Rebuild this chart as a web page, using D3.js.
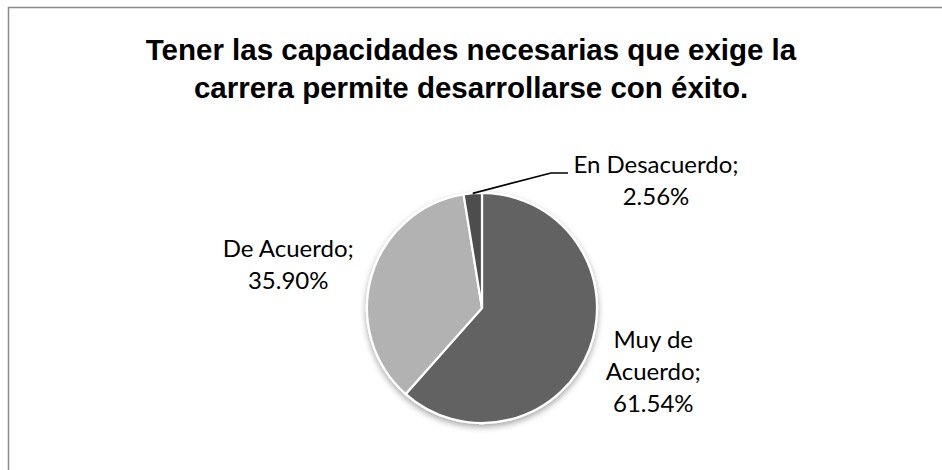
<!DOCTYPE html>
<html lang="es">
<head>
<meta charset="UTF-8">
<title>Tener las capacidades necesarias</title>
<script src="https://d3js.org/d3.v7.min.js"></script>
<style>
  body { margin: 0; padding: 0; background: #ffffff; }
  svg { display: block; }
</style>
</head>
<body>
<svg id="chart"></svg>
<script>
// Data
const categories = ["Muy de Acuerdo", "De Acuerdo", "En Desacuerdo"];
const percents = [61.54, 35.90, 2.56];
const labelLines = [["Muy de", "Acuerdo;", "61.54%"], ["De Acuerdo;", "35.90%"], ["En Desacuerdo;", "2.56%"]];
const titleLines = ["Tener las capacidades necesarias que exige la", "carrera permite desarrollarse con éxito."];

const width = 942, height = 470;
const cx = 482, cy = 308, radius = 115;

const color = d3.scaleOrdinal()
  .domain(categories)
  .range(["#626262", "#b2b2b2", "#4e4e4e"]);

const svg = d3.select("#chart").attr("width", width).attr("height", height);

// drop shadow for the pie
const defs = svg.append("defs");
const f = defs.append("filter").attr("id", "shadow")
  .attr("x", "-20%").attr("y", "-20%").attr("width", "140%").attr("height", "140%");
f.append("feDropShadow").attr("dx", 0).attr("dy", 3).attr("stdDeviation", 3)
  .attr("flood-color", "#000").attr("flood-opacity", 0.35);

// chart frame
svg.append("rect")
  .attr("x", 8.5).attr("y", 7.5).attr("width", width).attr("height", height)
  .attr("fill", "#fff").attr("stroke", "#8a8a8a").attr("stroke-width", 1.5);

// title
svg.append("text")
  .attr("text-anchor", "middle")
  .attr("font-family", "Liberation Sans, Arial, sans-serif")
  .attr("font-weight", "bold").attr("font-size", 29.5).attr("fill", "#000")
  .selectAll("tspan").data(titleLines).join("tspan")
  .attr("x", 471).attr("y", (d, i) => 60 + i * 38)
  .text(d => d);

const data = categories.map((c, i) => ({ category: c, value: percents[i], lines: labelLines[i] }));

const pie = d3.pie().sort(null).value(d => d.value);
const arc = d3.arc().innerRadius(0).outerRadius(radius);
const arcs = pie(data);

const g = svg.append("g").attr("transform", `translate(${cx},${cy})`);

g.append("g").attr("filter", "url(#shadow)")
  .selectAll("path").data(arcs).join("path")
  .attr("d", arc)
  .attr("fill", d => color(d.data.category))
  .attr("stroke", "#fff").attr("stroke-width", 2.2);

// label placement: radius factor along slice mid-angle plus a nudge
const labelLayout = [
  { k: 1.5, dx: 10, dy: 11 },
  { k: 1.7, dx: -6, dy: 19 },
  { k: 0, dx: 174, dy: -119.5 }
];

const labels = g.append("g")
  .attr("font-family", "Lato, 'Open Sans', sans-serif")
  .attr("font-size", 24).attr("fill", "#000").attr("text-anchor", "middle");

const lh = 32;
arcs.forEach((d, i) => {
  const mid = (d.startAngle + d.endAngle) / 2;
  const L = labelLayout[i];
  const r = radius * L.k;
  const x = r * Math.sin(mid) + L.dx;
  const y = -r * Math.cos(mid) + L.dy;
  const n = d.data.lines.length;
  labels.append("text")
    .selectAll("tspan").data(d.data.lines).join("tspan")
    .attr("x", x)
    .attr("y", (t, j) => y + (j - (n - 1) / 2) * lh)
    .text(t => t);

  if (L.k === 0) {
    // leader line from the slice edge to the label
    const px = radius * Math.sin(mid), py = -radius * Math.cos(mid);
    g.append("polyline")
      .attr("points", [[px, py], [x - 105, y - 15.5], [x - 88, y - 15.5]].map(p => p.join(",")).join(" "))
      .attr("fill", "none").attr("stroke", "#000").attr("stroke-width", 1.6);
  }
});
</script>
</body>
</html>
